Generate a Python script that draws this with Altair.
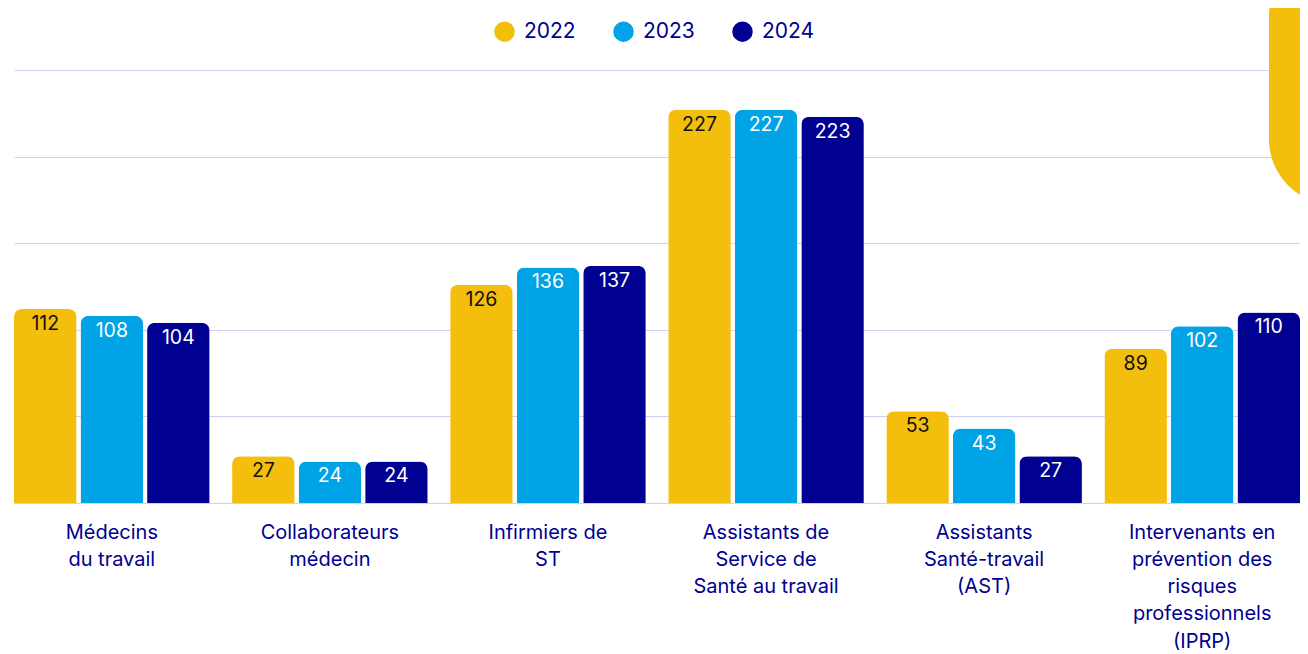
import altair as alt
import pandas as pd

categories = [
    "Médecins\ndu travail",
    "Collaborateurs\nmédecin",
    "Infirmiers de\nST",
    "Assistants de\nService de\nSanté au travail",
    "Assistants\nSanté-travail\n(AST)",
    "Intervenants en\nprévention des\nrisques\nprofessionnels\n(IPRP)",
]
years = ["2022", "2023", "2024"]
v2022 = [112, 27, 126, 227, 53, 89]
v2023 = [108, 24, 136, 227, 43, 102]
v2024 = [104, 24, 137, 223, 27, 110]
colors = ["#F3BE0C", "#00A3E6", "#000091"]
grid_ticks = [0, 50, 100, 150, 200, 250]

rows = []
for y, vals in zip(years, [v2022, v2023, v2024]):
    for c, v in zip(categories, vals):
        rows.append({"cat": c, "year": y, "value": v})
df = pd.DataFrame(rows)

FONT = "Inter"
NAVY = "#000091"

x_enc = alt.X(
    "cat:N",
    sort=categories,
    scale=alt.Scale(paddingInner=0.103, paddingOuter=0),
    axis=alt.Axis(
        title=None,
        labelExpr="split(datum.label, '\\n')",
        labelAngle=0,
        labelAlign="center",
        labelBaseline="top",
        labelPadding=19,
        labelLineHeight=27.3,
        labelFontSize=20,
        labelColor=NAVY,
        labelFont=FONT,
        ticks=False,
        domain=False,
        grid=False,
    ),
)
y_enc = alt.Y(
    "value:Q",
    scale=alt.Scale(domain=[0, 250], nice=False),
    axis=alt.Axis(
        values=grid_ticks,
        labels=False,
        ticks=False,
        domain=False,
        title=None,
        gridColor="#D2D0F0",
        gridWidth=1,
    ),
)
xoff = alt.XOffset("year:N", sort=years, scale=alt.Scale(paddingInner=0.06, paddingOuter=0))

base = alt.Chart(df)

deco = alt.Chart(alt.Data(values=[{"k": 1}])).mark_rect(
    color="#F3BE0C", cornerRadius=66, clip=False
).encode(
    x=alt.value(1255), x2=alt.value(1420), y=alt.value(-120), y2=alt.value(135)
)

bars = base.mark_bar(cornerRadiusTopLeft=8, cornerRadiusTopRight=8).encode(
    x=x_enc,
    xOffset=xoff,
    y=y_enc,
    color=alt.Color(
        "year:N",
        sort=years,
        scale=alt.Scale(domain=years, range=colors),
        legend=alt.Legend(
            title=None,
            orient="none",
            legendX=480,
            legendY=-49,
            direction="horizontal",
            symbolType="circle",
            symbolSize=420,
            symbolStrokeWidth=0,
            labelFontSize=21,
            labelColor=NAVY,
            labelFont=FONT,
            labelOffset=9,
            columnPadding=37,
        ),
    ),
)

labels = base.mark_text(baseline="top", dy=6, fontSize=19.5, font=FONT).encode(
    x=alt.X("cat:N", sort=categories),
    xOffset=alt.XOffset("year:N", sort=years),
    y=alt.Y("value:Q"),
    text=alt.Text("value:Q"),
    color=alt.condition(alt.datum.year == "2022", alt.value("#111111"), alt.value("#FFFFFF")),
)

chart = (
    alt.layer(deco, bars, labels)
    .properties(
        width=1286,
        height=433,
        autosize=alt.AutoSizeParams(type="none"),
        padding={"left": 6, "top": 62, "right": 0, "bottom": 150},
        background="white",
    )
    .configure(font=FONT)
    .configure_view(strokeWidth=0, stroke="transparent")
    .configure_axis(domain=False, ticks=False)
)

chart.save("out.html", embed_options={"renderer": "svg", "actions": False})
